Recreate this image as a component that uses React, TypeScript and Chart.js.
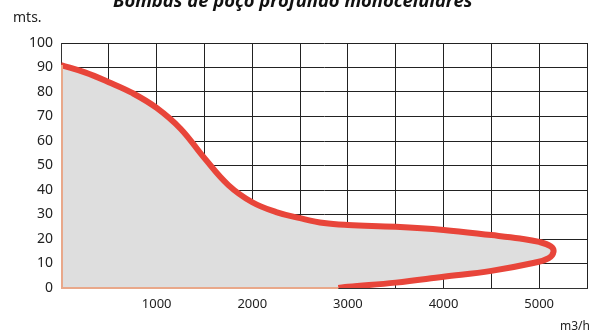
import React, { useEffect, useRef } from "react";
import { Chart, registerables } from "chart.js";

Chart.register(...registerables);

const chartTitle = "Bombas de poço profundo monocelulares";
const yAxisLabel = "mts.";
const xAxisLabel = "m3/h";

// Flow (m3/h) and head (m) along the curve, upper branch then lower branch
const flowValues = [0, 250, 500, 750, 1000, 1250, 1500, 1750, 2000, 2250, 2500, 2750, 3000, 3500, 4000, 4500, 4800, 5000, 5120, 5150, 5100, 4950, 4500, 4000, 3500, 3000, 2900];
const headValues = [91, 88, 84, 79.5, 73.5, 65, 53, 42, 35, 31, 28.5, 26.5, 25.7, 25, 23.7, 21.6, 20.2, 18.8, 17, 14.8, 12.2, 10.3, 7, 4.6, 2.2, 0.5, 0];

const xTickLabels = [1000, 2000, 3000, 4000, 5000];
const yTicks = [0, 10, 20, 30, 40, 50, 60, 70, 80, 90, 100];

const areaPlugin = {
  id: "areaFill",
  beforeDatasetsDraw(chart: any) {
    const meta = chart.getDatasetMeta(0);
    const line = meta.dataset;
    if (!line) return;
    const xs = chart.scales.x;
    const ys = chart.scales.y;
    const ctx = chart.ctx;
    line.updateControlPoints(chart.chartArea, "x");
    ctx.save();
    ctx.beginPath();
    line.path(ctx);
    const x0 = xs.getPixelForValue(0);
    const y0 = ys.getPixelForValue(0);
    ctx.lineTo(x0, y0);
    ctx.closePath();
    ctx.fillStyle = "#dedede";
    ctx.fill();
    ctx.restore();
  },
  afterDatasetsDraw(chart: any) {
    const xs = chart.scales.x;
    const ys = chart.scales.y;
    const ctx = chart.ctx;
    const x0 = xs.getPixelForValue(0);
    const y0 = ys.getPixelForValue(0);
    ctx.save();
    ctx.strokeStyle = "#e9a88a";
    ctx.lineWidth = 2;
    ctx.beginPath();
    ctx.moveTo(x0 + 1, ys.getPixelForValue(headValues[0]));
    ctx.lineTo(x0 + 1, y0);
    ctx.lineTo(xs.getPixelForValue(flowValues[flowValues.length - 1]), y0);
    ctx.stroke();
    ctx.restore();
  },
};

const textPlugin = {
  id: "texts",
  afterDraw(chart: any) {
    const ctx = chart.ctx;
    ctx.save();
    ctx.fillStyle = "#111";
    let size = 20;
    ctx.font = `italic bold ${size}px "Open Sans"`;
    const w = ctx.measureText(chartTitle).width;
    size = (size * 360) / w;
    ctx.font = `italic bold ${size}px "Open Sans"`;
    ctx.textAlign = "left";
    ctx.textBaseline = "alphabetic";
    ctx.fillText(chartTitle, 113, 7);
    ctx.font = '14px "Noto Sans"';
    ctx.fillStyle = "#222";
    ctx.fillText(yAxisLabel, 13, 22);
    ctx.font = '12px "Noto Sans"';
    ctx.fillText(xAxisLabel, 560, 330);
    ctx.restore();
  },
};

export default function App() {
  const ref = useRef<HTMLCanvasElement | null>(null);
  useEffect(() => {
    if (!ref.current) return;
    const data = flowValues.map((x, i) => ({ x, y: headValues[i] }));
    const chart = new Chart(ref.current, {
      type: "scatter",
      data: {
        datasets: [
          {
            data,
            showLine: true,
            borderColor: "#e8453a",
            borderWidth: 6,
            pointRadius: 0,
            tension: 0.4,
            fill: false,
          },
        ],
      },
      options: {
        animation: false,
        responsive: false,
        maintainAspectRatio: false,
        layout: { padding: { top: 43, right: 18, left: 0, bottom: 0 } },
        plugins: { legend: { display: false }, tooltip: { enabled: false }, title: { display: false } },
        scales: {
          x: {
            type: "linear",
            min: 0,
            max: 5500,
            border: { display: true, color: "#333", width: 1 },
            grid: { color: "#222", lineWidth: 1, drawTicks: false },
            ticks: {
              stepSize: 500,
              autoSkip: false,
              maxRotation: 0,
              padding: 8,
              color: "#222",
              font: { family: "Noto Sans", size: 13 },
              callback: (v: any) => (xTickLabels.includes(Number(v)) ? String(v) : ""),
            },
            afterFit: (s: any) => {
              s.height = 46;
            },
          },
          y: {
            type: "linear",
            min: 0,
            max: 100,
            border: { display: true, color: "#333", width: 1 },
            grid: { color: "#222", lineWidth: 1, drawTicks: false },
            ticks: {
              stepSize: 10,
              autoSkip: false,
              padding: 8,
              color: "#222",
              font: { family: "Noto Sans", size: 14 },
              callback: (v: any) => (yTicks.includes(Number(v)) ? String(v) : ""),
            },
            afterFit: (s: any) => {
              s.width = 61;
            },
          },
        },
      },
      plugins: [areaPlugin, textPlugin],
    });
    return () => chart.destroy();
  }, []);
  return (
    <div style={{ position: "fixed", left: 0, top: 0, width: 605, height: 334, background: "#fff" }}>
      <canvas ref={ref} width={605} height={334} style={{ display: "block" }} />
    </div>
  );
}
